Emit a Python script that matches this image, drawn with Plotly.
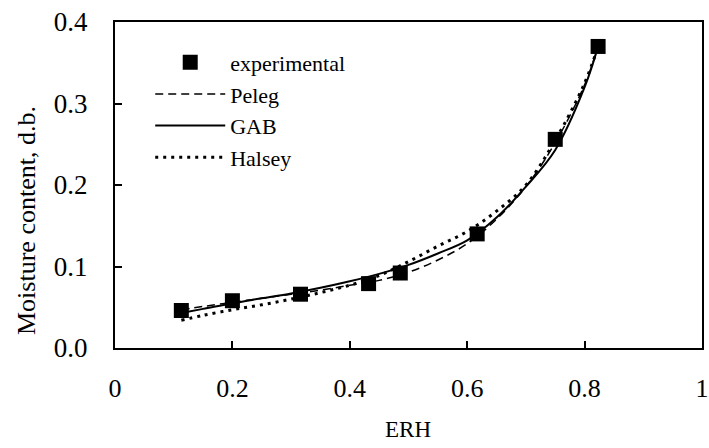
import plotly.graph_objects as go

# Experimental data
erh_exp = [0.113, 0.200, 0.316, 0.432, 0.486, 0.617, 0.750, 0.823]
mc_exp = [0.046, 0.058, 0.066, 0.079, 0.092, 0.140, 0.256, 0.370]

# Model curves
erh_model = [0.113, 0.15, 0.2, 0.25, 0.3, 0.35, 0.4, 0.45, 0.5, 0.55, 0.6, 0.65, 0.7, 0.75, 0.8, 0.823]
mc_peleg = [0.047, 0.051, 0.056, 0.061, 0.066, 0.071, 0.077, 0.083, 0.093, 0.108, 0.128, 0.158, 0.198, 0.252, 0.323, 0.370]
mc_gab = [0.043, 0.048, 0.055, 0.061, 0.067, 0.074, 0.082, 0.091, 0.102, 0.116, 0.132, 0.160, 0.198, 0.243, 0.320, 0.370]
mc_halsey = [0.034, 0.040, 0.047, 0.053, 0.060, 0.068, 0.077, 0.089, 0.106, 0.125, 0.143, 0.168, 0.200, 0.255, 0.325, 0.370]

x_ticks = [0, 0.2, 0.4, 0.6, 0.8, 1]
x_ticklabels = ["0", "0.2", "0.4", "0.6", "0.8", "1"]
y_ticks = [0, 0.1, 0.2, 0.3, 0.4]
y_ticklabels = ["0.0", "0.1", "0.2", "0.3", "0.4"]

FONT = "Liberation Serif"
L, R, T, B = 115, 7, 22, 100
PW = 709 - L - R
PH = 448 - T - B

fig = go.Figure()
fig.add_trace(go.Scatter(x=erh_exp, y=mc_exp, mode="markers", name="experimental",
                         marker=dict(symbol="square", size=15, color="black")))
fig.add_trace(go.Scatter(x=erh_model, y=mc_peleg, mode="lines", name="Peleg", line_shape="spline",
                         line=dict(color="black", width=1.5, dash="8px,5px")))
fig.add_trace(go.Scatter(x=erh_model, y=mc_gab, mode="lines", name="GAB", line_shape="spline",
                         line=dict(color="black", width=2)))
fig.add_trace(go.Scatter(x=erh_model, y=mc_halsey, mode="lines", name="Halsey", line_shape="spline",
                         line=dict(color="black", width=3, dash="3px,5px")))

fig.update_layout(
    width=709, height=448,
    margin=dict(l=L, r=R, t=T, b=B, autoexpand=False),
    paper_bgcolor="white", plot_bgcolor="white",
    font=dict(family=FONT, size=27, color="black"),
    legend=dict(x=0.06, y=0.94, xanchor="left", yanchor="top", bgcolor="rgba(0,0,0,0)",
                font=dict(family=FONT, size=22, color="black"), itemwidth=70, tracegroupgap=0),
    showlegend=True,
    annotations=[
        dict(text="ERH", xref="paper", yref="paper", x=(408 - L) / PW, y=-(430 - 348) / PH,
             xanchor="center", yanchor="middle", showarrow=False,
             font=dict(family=FONT, size=23, color="black")),
        dict(text="Moisture content, d.b.", xref="paper", yref="paper", x=-(L - 26) / PW,
             y=(348 - 221) / PH, xanchor="center", yanchor="middle", textangle=-90,
             showarrow=False, font=dict(family=FONT, size=26, color="black")),
    ],
)
fig.update_xaxes(range=[0, 1], tickvals=x_ticks, ticktext=x_ticklabels, ticks="inside", ticklen=7,
                 tickwidth=1.5, tickcolor="black", showline=True, linecolor="black", linewidth=2,
                 mirror=True, showgrid=False, zeroline=False, automargin=False,
                 ticklabelstandoff=16, ticklabeloverflow="allow",
                 tickfont=dict(family=FONT, size=26, color="black"))
fig.update_yaxes(range=[0, 0.4], tickvals=y_ticks, ticktext=y_ticklabels, ticks="inside", ticklen=7,
                 tickwidth=1.5, tickcolor="black", showline=True, linecolor="black", linewidth=2,
                 mirror=True, showgrid=False, zeroline=False, automargin=False,
                 ticklabelstandoff=20, ticklabeloverflow="allow",
                 tickfont=dict(family=FONT, size=27, color="black"))

fig.write_html("out.html")
